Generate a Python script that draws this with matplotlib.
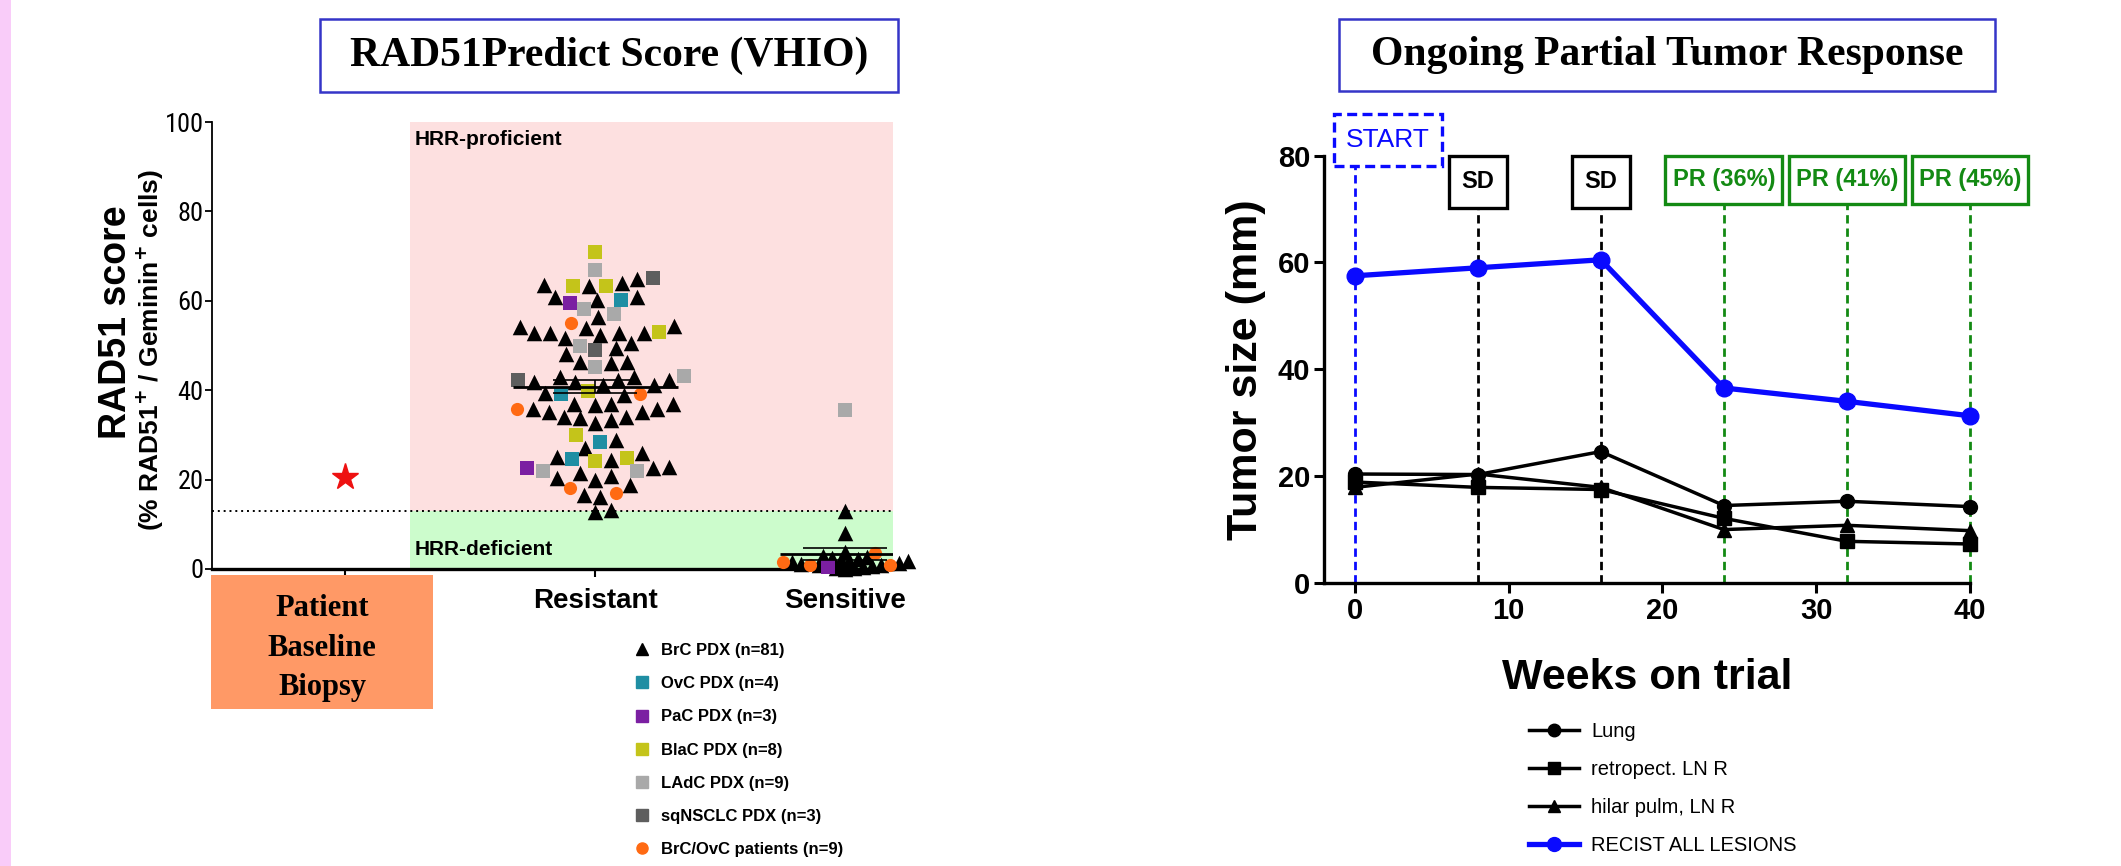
import numpy as np
import matplotlib
matplotlib.use('Agg')
import matplotlib.pyplot as plt
from matplotlib.patches import Rectangle
from matplotlib.lines import Line2D
from matplotlib.font_manager import FontProperties, fontManager, weight_dict

# ---------------- left panel data (RAD51 score) ----------------
group_names = ['', 'Resistant', 'Sensitive']
patient_score = [20.5]
hrr_cutoff = 13

brc_res = [64.8, 63.9, 63.2, 63.5, 60.2, 60.8, 60.8, 56.3, 54.2,
           52.7, 52.4, 51.6, 52.7, 52.7, 52.9, 54.0, 54.3, 49.4, 50.5, 48.0,
           46.2, 46.2, 46.0, 41.2, 39.4, 42.3, 42.3, 41.9, 41.9, 39.0, 43.0,
           43.0, 41.2, 37.0, 35.2, 34.1, 37.0, 33.7, 37.0, 32.6, 33.4, 34.1,
           35.2, 35.9, 35.9, 36.7, 28.9, 27.0, 25.1, 24.4, 25.9, 22.9, 21.4,
           22.5, 20.7, 20.0, 20.3, 18.8, 16.2, 16.6, 12.8, 13.1]
brc_sens = [13.0, 8.0, 3.8, 3.0, 2.7, 2.5, 2.3, 2.1, 1.9, 1.7, 1.5, 1.3,
            1.1, 1.0, 0.8, 0.6, 0.5, 0.3, 0.2, 0.1]
ovc_res = [60.2, 39.2, 28.5, 24.5]
ovc_sens = []
pac_res = [59.6, 22.5]
pac_sens = [0.5]
blac_res = [71.0, 63.2, 63.2, 53.1, 39.9, 30.0, 24.2, 24.9]
blac_sens = []
ladc_res = [67.0, 57.0, 58.1, 50.0, 45.1, 43.2, 22.0, 22.0]
ladc_sens = [35.5]
sq_res = [65.0, 49.0, 42.3]
sq_sens = []
pts_res = [55.1, 39.2, 35.9, 17.1, 18.1]
pts_sens = [3.5, 1.5, 1.0, 0.8]

res_mean, res_sem = 40.8, 1.5
sens_mean, sens_sem = 3.3, 1.3

series_labels = ['BrC PDX (n=81)', 'OvC PDX (n=4)', 'PaC PDX (n=3)', 'BlaC PDX (n=8)',
                 'LAdC PDX (n=9)', 'sqNSCLC PDX (n=3)', 'BrC/OvC patients (n=9)']
series_markers = ['^', 's', 's', 's', 's', 's', 'o']
series_colors = ['black', '#1f8ea3', '#7b1fa2', '#c4c41a', '#a9a9a9', '#5e5e5e', '#ff6a13']
res_values = [brc_res, ovc_res, pac_res, blac_res, ladc_res, sq_res, pts_res]
sens_values = [brc_sens, ovc_sens, pac_sens, blac_sens, ladc_sens, sq_sens, pts_sens]

# ---------------- right panel data (tumour size) ----------------
weeks = [0, 8, 16, 24, 32, 40]
lung = [20.4, 20.3, 24.6, 14.5, 15.3, 14.3]
retro = [18.9, 17.9, 17.5, 12.1, 7.8, 7.3]
hilar = [17.9, 20.4, 17.9, 10.0, 10.8, 9.8]
recist = [57.5, 59.0, 60.5, 36.5, 34.0, 31.3]
lesion_labels = ['Lung', 'retropect. LN R', 'hilar pulm, LN R', 'RECIST ALL LESIONS']
response_labels = ['START', 'SD', 'SD', 'PR (36%)', 'PR (41%)', 'PR (45%)']

GREEN = '#138a13'
BLUE = '#0a0aff'

SANS = 'Liberation Sans'
SERIF = 'Liberation Serif'

# a condensed regular face for the left axis numbers, if one is installed
def _w(v):
    return v if isinstance(v, (int, float)) else weight_dict.get(v, 400)

NR = (SANS, 'normal', 0.85)
for f in fontManager.ttflist:
    if ('Narrow' in f.name or 'Condensed' in f.name or
            str(f.stretch) in ('condensed', 'semi-condensed')) \
            and 'Mono' not in f.name and 'Serif' not in f.name and _w(f.weight) < 600:
        NR = (f.name, f.stretch, 1.0)
        if 'Liberation' in f.name:
            break

def bfont(size):
    return dict(family=SANS, weight='bold', fontsize=size)

W, H = 2121, 866
def fx(px):
    return px / W
def fy(py):
    return 1 - py / H

fig = plt.figure(figsize=(W / 100, H / 100), dpi=100)

# pink strip on the far left
fig.add_artist(Rectangle((0, 0), fx(11), 1, transform=fig.transFigure,
                         facecolor='#f9ccf9', edgecolor='none', zorder=0))

# title boxes
def title_box(x0, y0, x1, y1, text):
    fig.add_artist(Rectangle((fx(x0), fy(y1)), fx(x1 - x0), (y1 - y0) / H,
                             transform=fig.transFigure, facecolor='white',
                             edgecolor='#3535c8', lw=1.8))
    fig.text(fx((x0 + x1) / 2), fy((y0 + y1) / 2), text, ha='center', va='center',
             family=SERIF, weight='bold', fontsize=30)

title_box(320, 19, 898, 92, 'RAD51Predict Score (VHIO)')
title_box(1339, 19, 1995, 91, 'Ongoing Partial Tumor Response')

# ================= left panel =================
axL = fig.add_axes([fx(212), fy(569), fx(893 - 212), (569 - 122) / H])
x_lo, x_hi = 0.469, 3.19
axL.set_xlim(x_lo, x_hi)
axL.set_ylim(0, 100)
axL.add_patch(Rectangle((1.26, hrr_cutoff), x_hi - 1.26, 100 - hrr_cutoff,
                        facecolor='#fde0e0', edgecolor='none', zorder=0))
axL.add_patch(Rectangle((1.26, 0), x_hi - 1.26, hrr_cutoff,
                        facecolor='#ccfccc', edgecolor='none', zorder=0))
axL.axhline(hrr_cutoff, color='black', ls=(0, (1, 2)), lw=1.4, zorder=1)
axL.text(1.28, 96, 'HRR-proficient', va='center', ha='left', **bfont(15))
axL.text(1.28, 4.3, 'HRR-deficient', va='center', ha='left', **bfont(15))

for s in ['top', 'right']:
    axL.spines[s].set_visible(False)
axL.spines['bottom'].set_linewidth(2.4)
axL.spines['left'].set_linewidth(1.3)
axL.set_yticks(range(0, 101, 20))
axL.set_yticklabels([str(v) for v in range(0, 101, 20)], family=NR[0],
                    fontstretch=NR[1], fontsize=19 * NR[2])
axL.set_xticks([1, 2, 3])
axL.set_xticklabels(group_names, **bfont(20))
axL.tick_params(axis='y', length=5, width=1.3, pad=1)
axL.tick_params(axis='x', length=6, width=1.5, pad=8)

# swarm layout computed in pixel space
def swarm(ys_px, d):
    xs = np.zeros(len(ys_px))
    placed = []
    for i in np.argsort(ys_px, kind='stable'):
        y = ys_px[i]
        cands = [0.0]
        for px, py in placed:
            dy = abs(py - y)
            if dy < d:
                dx = np.sqrt(d * d - dy * dy)
                cands += [px + dx, px - dx]
        cands.sort(key=abs)
        for c in cands:
            if all((c - px) ** 2 + (y - py) ** 2 >= d * d - 1e-6 for px, py in placed):
                xs[i] = c
                break
        placed.append((xs[i], y))
    return xs

p0 = axL.transData.transform((0, 0))
p1 = axL.transData.transform((1, 1))
sx, sy = p1[0] - p0[0], p1[1] - p0[1]

for xc, group, dist in [(2, res_values, 16.0), (3, sens_values, 9.0)]:
    allv = np.concatenate([np.asarray(v, float) for v in group if len(v)])
    offs = swarm(allv * sy, dist) / sx
    k = 0
    for vals, m, c in zip(group, series_markers, series_colors):
        n = len(vals)
        if n:
            size = 125 if m == '^' else 90
            axL.scatter(xc + offs[k:k + n], vals, marker=m, s=size, c=c,
                        linewidths=0, zorder=3, clip_on=False)
        k += n

for xc, mu, se, half in [(2, res_mean, res_sem, 0.33), (3, sens_mean, sens_sem, 0.26)]:
    axL.hlines(mu, xc - half, xc + half, color='black', lw=2, zorder=4)
    axL.errorbar(xc, mu, yerr=se, color='black', lw=1.2, capsize=30,
                 capthick=1.2, zorder=4)

axL.plot([1], patient_score, ls='none', marker='*', color='#ee1111', ms=20, zorder=3)

fig.text(fx(116), fy(322), 'RAD51 score', rotation=90, ha='center', va='center',
         family=SANS, weight='bold', fontsize=27)
fig.text(fx(150), fy(350), r'(% RAD51$^\mathbf{+}$ / Geminin$^\mathbf{+}$ cells)',
         rotation=90, ha='center', va='center', family=SANS, weight='bold', fontsize=19)

# patient baseline biopsy box
fig.add_artist(Rectangle((fx(211), fy(709)), fx(433 - 211), (709 - 575) / H,
                         transform=fig.transFigure, facecolor='#ff9966', edgecolor='none'))
fig.text(fx(322), fy(648), 'Patient\nBaseline\nBiopsy', ha='center', va='center',
         family=SERIF, weight='bold', fontsize=22, linespacing=1.5)

handlesL = [Line2D([], [], ls='none', marker=m, color=c, ms=9 if m == '^' else 8)
            for m, c in zip(series_markers, series_colors)]
fig.legend(handlesL, series_labels, loc='upper left', bbox_to_anchor=(fx(634), fy(643)),
           frameon=False, handlelength=1.0, handletextpad=0.6, labelspacing=1.09,
           borderpad=0, borderaxespad=0,
           prop=FontProperties(family=SANS, weight='bold', size=12))

# ================= right panel =================
axR = fig.add_axes([fx(1324), fy(583), fx(1970 - 1324), (583 - 155.6) / H])
axR.set_xlim(-2, 40)
axR.set_ylim(0, 80)
for s in ['top', 'right']:
    axR.spines[s].set_visible(False)
for s in ['bottom', 'left']:
    axR.spines[s].set_linewidth(2.4)
axR.set_xticks(range(0, 41, 10))
axR.set_yticks(range(0, 81, 20))
axR.tick_params(length=7, width=2.2, pad=3, labelsize=21)
for t in axR.get_xticklabels() + axR.get_yticklabels():
    t.set_family(SANS)
    t.set_weight('bold')
axR.set_ylabel('Tumor size (mm)', family=SANS, weight='bold', fontsize=31, labelpad=8)
axR.set_xlabel('Weeks on trial', family=SANS, weight='bold', fontsize=31, labelpad=24)

# response annotation boxes (box extents are layout, in data units)
box_colors = [BLUE, 'black', 'black', GREEN, GREEN, GREEN]
box_half = [None, 1.9, 1.9, 3.8, 3.8, 3.8]
for wk, lab, col, hw in zip(weeks, response_labels, box_colors, box_half):
    if hw is None:
        x0, x1, b, t = -1.35, 5.7, 78.1, 87.7
        ls = (0, (3, 1.6))
        tkw = dict(family=SANS, fontsize=19)
    else:
        x0, x1 = wk - hw, wk + hw
        b, t = (70.2, 80.0) if col == 'black' else (70.9, 80.0)
        ls = '-'
        tkw = bfont(17)
    axR.add_patch(Rectangle((x0, b), x1 - x0, t - b, facecolor='white', edgecolor=col,
                            lw=2.4, ls=ls, clip_on=False, zorder=5))
    axR.text((x0 + x1) / 2, (b + t) / 2, lab, ha='center', va='center', color=col,
             zorder=6, clip_on=False, **tkw)
    axR.vlines(wk, 0, b, colors=col, linestyles=(0, (3, 1.8)), lw=2.0, zorder=1,
               clip_on=False)

axR.plot(weeks, lung, color='black', lw=2.5, marker='o', ms=10, zorder=3, clip_on=False)
axR.plot(weeks, retro, color='black', lw=2.5, marker='s', ms=10, zorder=3, clip_on=False)
axR.plot(weeks, hilar, color='black', lw=2.5, marker='^', ms=10, zorder=3, clip_on=False)
axR.plot(weeks, recist, color=BLUE, lw=3.8, marker='o', ms=12, zorder=4, clip_on=False)

handlesR = [Line2D([], [], color='black', lw=2.5, marker='o', ms=9),
            Line2D([], [], color='black', lw=2.5, marker='s', ms=9),
            Line2D([], [], color='black', lw=2.5, marker='^', ms=9),
            Line2D([], [], color=BLUE, lw=3.8, marker='o', ms=10)]
fig.legend(handlesR, lesion_labels, loc='upper left', bbox_to_anchor=(fx(1529), fy(722)),
           frameon=False, handlelength=2.5, handletextpad=0.6, labelspacing=0.95,
           borderpad=0, borderaxespad=0, prop=FontProperties(family=SANS, size=14.5))

fig.savefig('out.png', dpi=100)
